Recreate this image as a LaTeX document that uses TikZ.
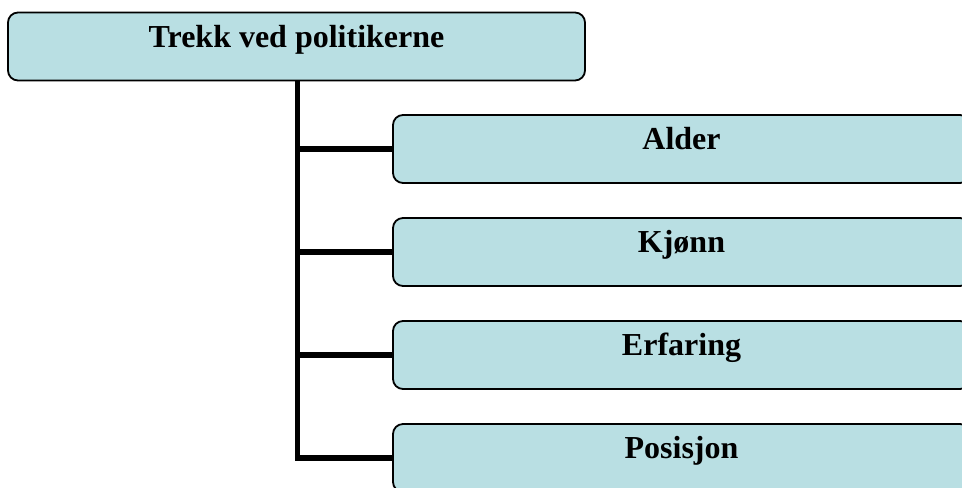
\documentclass[tikz,border=0pt]{standalone}
\usepackage{fontspec}
\setmainfont{Liberation Serif}
\usepackage{tikz}
\definecolor{boksfarge}{RGB}{185,223,227}
\tikzstyle{boks}=[draw, line width=1.35pt, rounded corners=7.5pt, fill=boksfarge,
  minimum width=432.75pt, inner xsep=0pt, inner ysep=0pt,
  text height=26pt, text depth=25pt,
  font=\fontsize{24pt}{28pt}\selectfont\bfseries]
\tikzstyle{gren}=[line width=4pt]

\begin{document}
\begin{tikzpicture}[x=0.75pt, y=-0.75pt]
\useasboundingbox (0,0) rectangle (962,487);
\clip (0,0) rectangle (962,487);
\node[boks] (trekk) at (296.5,46.5) {Trekk ved politikerne};
\node[boks] (alder) at (681.5,149) {Alder};
\node[boks] (kjonn) at (681.5,252) {Kjønn};
\node[boks] (erfaring) at (681.5,355) {Erfaring};
\node[boks] (posisjon) at (681.5,458) {Posisjon};
\coordinate (stamme) at (297.5,81);
\draw[gren] (stamme) |- (posisjon.west);
\draw[gren] (stamme |- alder.west) -- (alder.west);
\draw[gren] (stamme |- kjonn.west) -- (kjonn.west);
\draw[gren] (stamme |- erfaring.west) -- (erfaring.west);
\end{tikzpicture}
\end{document}
